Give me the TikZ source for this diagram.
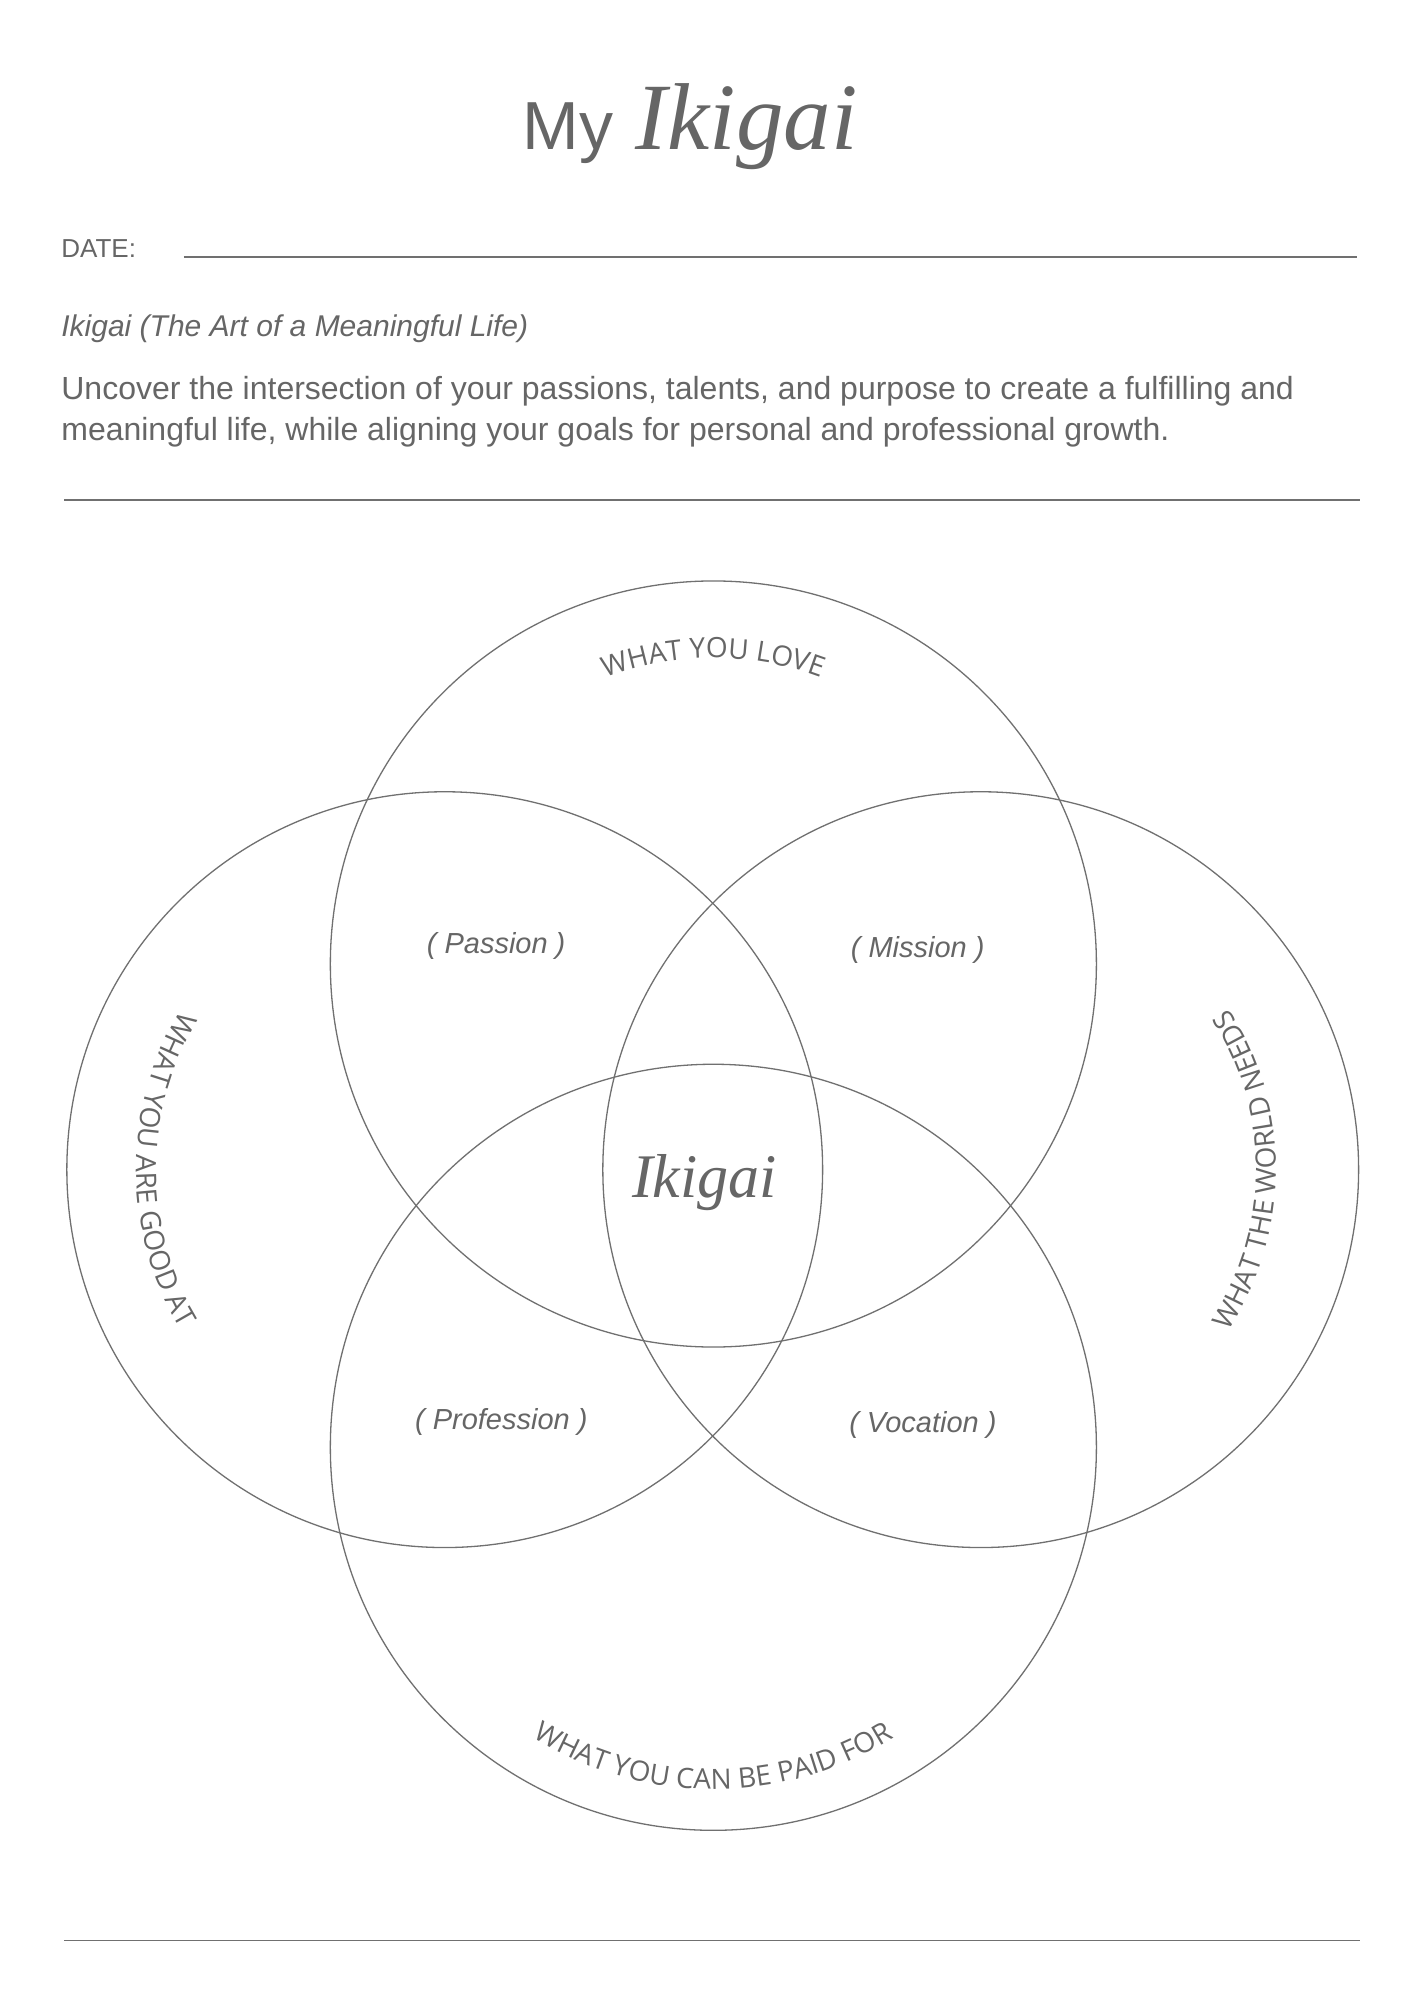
\documentclass[tikz,border=0pt]{standalone}
\usepackage{fontspec}
\setmainfont{Liberation Sans}
\newfontfamily\lblfont{Open Sans}
\newfontfamily\scriptf{Liberation Serif}
\usetikzlibrary{decorations.text}
\definecolor{ink}{HTML}{666666}
\definecolor{circ}{HTML}{707070}
\tikzset{
  ring/.style={draw=circ,line width=1.3pt},
  rule/.style={draw=circ,line width=1.2pt},
  curved/.style={decorate,decoration={text along path,text align=center,text color=ink,
     text={|\lblfont\fontsize{28}{28}\selectfont|#1}}},
  overlap/.style={text=ink,font=\itshape\fontsize{29}{29}\selectfont},
}
\begin{document}
\begin{tikzpicture}[x=1.2855pt,y=1.2855pt]
\useasboundingbox[fill=white] (0,0) rectangle (1100,1556);
% title
\node[text=ink,font=\fontsize{68}{68}\selectfont,anchor=base east] (my) at (480,1440) {My};
\node[text=ink,font=\scriptf\itshape\fontsize{95}{95}\selectfont,anchor=base west] (tik) at (492,1440) {Ikigai};
% date
\node[text=ink,font=\fontsize{26}{26}\selectfont,anchor=base west] (date) at (45,1356) {DATE:};
\coordinate (d1) at (143,1356); \coordinate (d2) at (1056,1356);
\draw[rule] (d1) -- (d2);
\node[text=ink,font=\itshape\fontsize{30}{30}\selectfont,anchor=base west] (sub) at (45,1294) {Ikigai (The Art of a Meaningful Life)};
\node[text=ink,font=\fontsize{32}{32}\selectfont,anchor=base west] (p1) at (45,1245) {Uncover the intersection of your passions, talents, and purpose to create a fulfilling and};
\node[text=ink,font=\fontsize{32}{32}\selectfont,anchor=base west] (p2) at (45,1213) {meaningful life, while aligning your goals for personal and professional growth.};
\coordinate (r1) at (50,1167); \coordinate (r2) at (1058,1167);
\draw[rule] (r1) -- (r2);
\coordinate (b1) at (50,46); \coordinate (b2) at (1058,46);
\draw[rule] (b1) -- (b2);
% circles
\coordinate (ct) at (555,806);
\coordinate (cb) at (555,430);
\coordinate (cl) at (346,646);
\coordinate (cr) at (763,646);
\draw[ring] (ct) circle[radius=298];
\draw[ring] (cb) circle[radius=298];
\draw[ring] (cl) circle[radius=294];
\draw[ring] (cr) circle[radius=294];
% curved labels
\path[curved={WHAT YOU LOVE}] (ct) ++(120:238) arc[start angle=120,end angle=60,radius=238];
\path[curved={WHAT YOU ARE GOOD AT}] (cl) ++(140:240) arc[start angle=140,end angle=220,radius=240];
\path[curved={WHAT THE WORLD NEEDS}] (cr) ++(-40:230) arc[start angle=-40,end angle=40,radius=230];
\path[curved={WHAT YOU CAN BE PAID FOR}] (cb) ++(225:266) arc[start angle=225,end angle=315,radius=266];
% overlap labels
\node[overlap] (pas) at (386,820) {( Passion )};
\node[overlap] (mis) at (714,817) {( Mission )};
\node[overlap] (pro) at (390,450) {( Profession )};
\node[overlap] (voc) at (718,447) {( Vocation )};
\node[text=ink,font=\scriptf\itshape\fontsize{62}{62}\selectfont] (ik) at (548,636) {Ikigai};
\end{tikzpicture}
\end{document}
